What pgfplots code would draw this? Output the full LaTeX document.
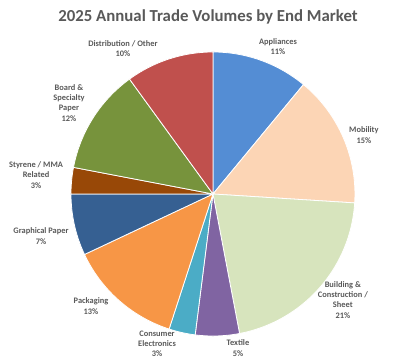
\documentclass[border=0pt]{standalone}
\usepackage{pgfplots}
\pgfplotsset{compat=1.18}
\usepackage{pgfplotstable}
\usepackage{fontspec}
\setmainfont{Carlito}
\definecolor{c0}{HTML}{548DD4}
\definecolor{c1}{HTML}{FCD5B5}
\definecolor{c2}{HTML}{D7E4BD}
\definecolor{c3}{HTML}{8064A2}
\definecolor{c4}{HTML}{4BACC6}
\definecolor{c5}{HTML}{F79646}
\definecolor{c6}{HTML}{366092}
\definecolor{c7}{HTML}{984807}
\definecolor{c8}{HTML}{77933C}
\definecolor{c9}{HTML}{C0504D}
\definecolor{txt}{HTML}{595959}
\pgfplotstableread{
value
11
15
21
5
3
13
7
3
12
10
}\pietable
\begin{document}
\begin{tikzpicture}
\def\cum{0}
\pgfplotsforeachungrouped \i in {0,...,9}{%
  \pgfplotstablegetelem{\i}{value}\of\pietable
  \pgfmathsetmacro\a{90-3.6*\cum}%
  \pgfmathsetmacro\cumnew{\cum+\pgfplotsretval}%
  \pgfmathsetmacro\b{90-3.6*\cumnew}%
  \expandafter\xdef\csname sa\i\endcsname{\a}%
  \expandafter\xdef\csname sb\i\endcsname{\b}%
  \xdef\cum{\cumnew}%
}
\begin{axis}[
  scale only axis, width=312pt, height=271.5pt,
  xmin=-1.5, xmax=1.430, ymin=-1.183, ymax=1.366,
  hide axis, clip=false,
]
\pgfplotsinvokeforeach{0,...,9}{
  \addplot[fill=c#1, draw=white, line width=0.6pt, domain={\csname sb#1\endcsname}:{\csname sa#1\endcsname}, samples=60, variable=\t]
    ({cos(\t)},{sin(\t)}) -- (axis cs:0,0) -- cycle;
}
\path (rel axis cs:0,0) rectangle (rel axis cs:1,1);
\begin{scope}[every node/.style={font=\bfseries\fontsize{6.3}{7.6}\selectfont, text=txt, align=center, inner sep=0pt}]
\node at (axis cs:0.458,1.035) {Appliances\\11\%};
\node at (axis cs:1.063,0.415) {Mobility\\15\%};
\node at (axis cs:0.915,-0.746) {Building \&\\Construction /\\Sheet\\21\%};
\node at (axis cs:0.176,-1.085) {Textile\\5\%};
\node at (axis cs:-0.394,-1.056) {Consumer\\Electronics\\3\%};
\node at (axis cs:-0.859,-0.789) {Packaging\\13\%};
\node at (axis cs:-1.211,-0.296) {Graphical Paper\\7\%};
\node at (axis cs:-1.246,0.134) {Styrene / MMA\\Related\\3\%};
\node at (axis cs:-1.014,0.641) {Board \&\\Specialty\\Paper\\12\%};
\node at (axis cs:-0.634,1.025) {Distribution / Other\\10\%};
\end{scope}
\node[font=\bfseries\fontsize{12.6}{15}\selectfont, text=txt, inner sep=0pt] at (axis cs:-0.035,1.246) {2025 Annual Trade Volumes by End Market};
\end{axis}
\end{tikzpicture}
\end{document}
